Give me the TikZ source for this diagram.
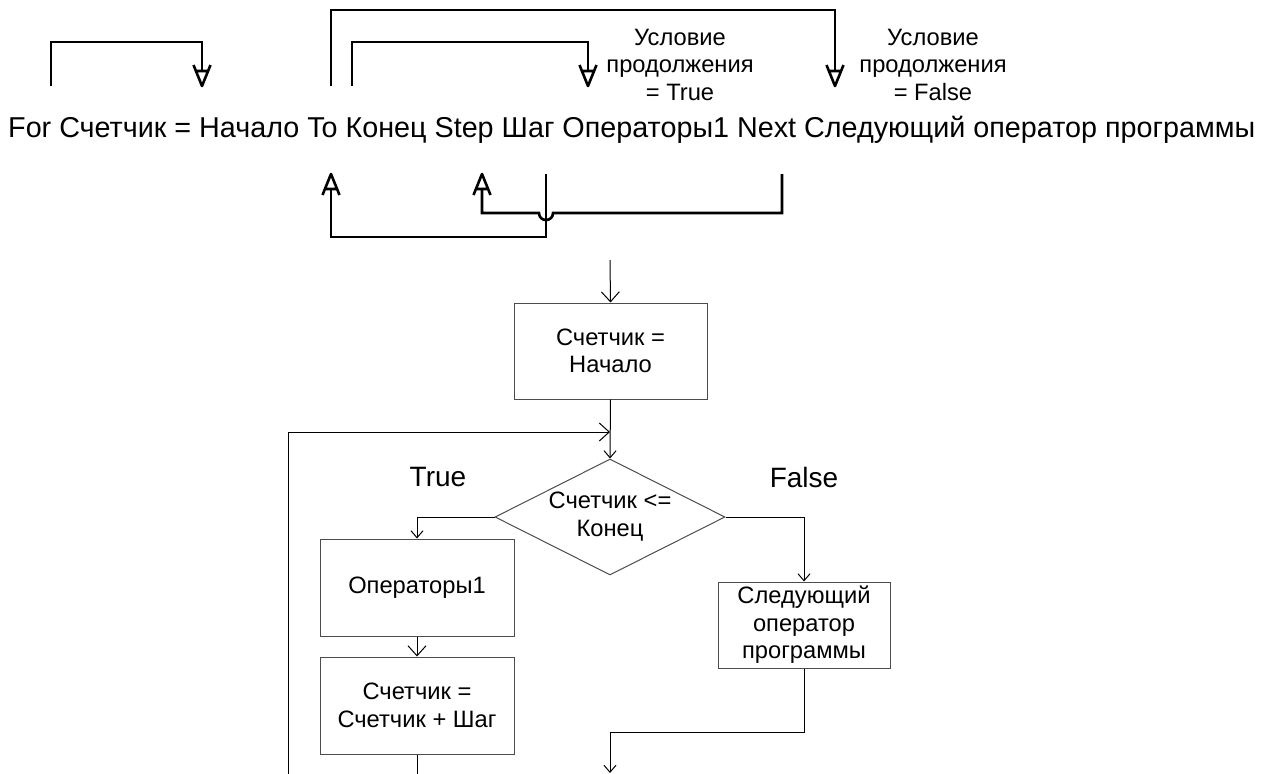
\documentclass[tikz,border=0pt]{standalone}
\usepackage{fontspec}
\setmainfont{Liberation Sans}
\usepackage{graphicx}
\usetikzlibrary{arrows.meta,shapes.geometric,calc}

% Hollow triangular tip with flared wings, used on the bracket connectors
\pgfdeclarearrow{
  name = Flare,
  setup code = {
    \pgfarrowssettipend{0pt}
    \pgfarrowssetlineend{-15pt}
    \pgfarrowssetbackend{-21pt}
    \pgfarrowshullpoint{0pt}{0pt}
    \pgfarrowshullpoint{-21pt}{8.5pt}
    \pgfarrowshullpoint{-21pt}{-8.5pt}
  },
  drawing code = {
    \pgfsetdash{}{0pt}
    \pgfsetroundjoin
    \pgfsetbuttcap
    \pgfpathmoveto{\pgfqpoint{-21pt}{8.5pt}}
    \pgfpathlineto{\pgfqpoint{0pt}{0pt}}
    \pgfpathlineto{\pgfqpoint{-21pt}{-8.5pt}}
    \pgfpathmoveto{\pgfqpoint{-15pt}{6.07pt}}
    \pgfpathlineto{\pgfqpoint{-15pt}{-6.07pt}}
    \pgfusepathqstroke
  },
  parameters = {},
}

\begin{document}
\begin{tikzpicture}[x=1pt,y=-1pt,
  bracket/.style={line width=2.6pt, line join=miter, -{Flare}},
  cn/.style={line width=1pt, draw=black},
  bigbarb/.style={-{Straight Barb[length=10pt,width=18pt,line width=1pt]}},
  smallbarb/.style={-{Straight Barb[length=7pt,width=12pt,line width=1pt]}},
  box/.style={draw=black!70, line width=1pt, rectangle, inner sep=0pt,
              align=center, font=\fontsize{23.7}{27.5}\selectfont},
  lbl/.style={inner sep=0pt, align=center, font=\fontsize{23.7}{27.5}\selectfont},
  branch/.style={inner sep=0pt, font=\fontsize{28}{30}\selectfont},
]
\useasboundingbox (0,0) rectangle (1267,774);

% ---------- the For statement ----------
\node[anchor=base west, inner sep=0pt] (code) at (8,137)
  {\resizebox{1247pt}{!}{\fontsize{28.5}{30}\selectfont For Счетчик = Начало To Конец Step Шаг Операторы1 Next Следующий оператор программы}};

% bracket end points above and below the statement
\coordinate (aS) at (51,86);
\coordinate (aE) at (202,86);
\coordinate (bS) at (331,86);
\coordinate (bE) at (835,86);
\coordinate (cS) at (352,86);
\coordinate (cE) at (588,86);
\coordinate (dS) at (546,174);
\coordinate (dE) at (331,174);
\coordinate (eS) at (782,174);
\coordinate (eE) at (482,174);
\coordinate (hop) at (546,213);

\draw[bracket] (aS) -- ++(0,-44) -| (aE);
\draw[bracket] (bS) -- ++(0,-76) -| (bE);
\draw[bracket] (cS) -- ++(0,-44) -| (cE);
\draw[bracket] (dS) -- ++(0,63) -| (dE);
\draw[bracket] (eS) -- (eS |- hop) -- ($(hop)+(7,0)$)
  .. controls ($(hop)+(7,9.3)$) and ($(hop)+(-7,9.3)$) .. ($(hop)+(-7,0)$)
  -| (eE);

% condition labels (anchored at the baseline of their last line)
\node[lbl, anchor=base] (ltrue) at (680,100) {Условие\\продолжения\\= True};
\node[lbl, anchor=base] (lfalse) at (933,100) {Условие\\продолжения\\= False};

% ---------- flowchart ----------
\node[box, minimum width=193pt, minimum height=96pt] (init) at (610.5,351) {Счетчик =\\Начало};
\node[draw=black!70, line width=1pt, diamond, aspect=2, inner sep=0pt,
      minimum width=230pt, minimum height=116pt, align=center,
      font=\fontsize{23.7}{28}\selectfont] (cond) at (610,517) {Счетчик <=\\Конец};
\node[box, minimum width=194pt, minimum height=97pt] (ops) at (417,587.5) {Операторы1};
\node[box, minimum width=194pt, minimum height=97pt] (step) at (417,705.5) {Счетчик =\\Счетчик + Шаг};
\node[box, minimum width=172pt, minimum height=86pt] (next) at (804,625) {Следующий\\оператор\\программы};

\node[branch] (ttrue) at (438,477) {True};
\node[branch] (tfalse) at (804,477) {False};

\coordinate (entry) at (610,260);
\coordinate (join) at (610,432);
\coordinate (loopbot) at (288,774);
\coordinate (stepout) at (417,774);
\coordinate (exit) at (610,773);

\draw[cn, bigbarb] (entry) -- (init.north);
\draw[cn, smallbarb] (init.south) -- (cond.north);
\draw[cn, bigbarb] (loopbot) |- (join);
\draw[cn, smallbarb] (cond.west) -| (ops.north);
\draw[cn, smallbarb] (cond.east) -| (next.north);
\draw[cn, bigbarb] (ops.south) -- (step.north);
\draw[cn] (step.south) -- (stepout);
\draw[cn, smallbarb] (next.south) -- ++(0,64) -| (exit);
\end{tikzpicture}
\end{document}
